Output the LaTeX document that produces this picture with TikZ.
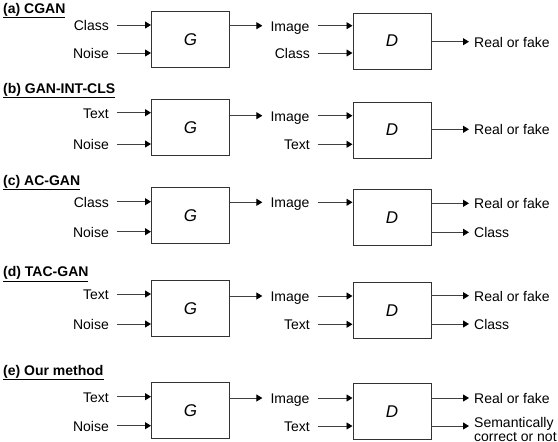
\documentclass[tikz,border=0pt]{standalone}
\usepackage{fontspec}
\setmainfont{Liberation Sans}
\usetikzlibrary{arrows.meta,positioning}
\tikzset{
  arr/.style={draw=black!75, line width=0.9pt, -{Triangle[length=6pt,width=7pt,color=black]}},
  blk/.style={draw=black!80, line width=0.9pt, anchor=north west, minimum width=78pt, minimum height=56pt, inner sep=0pt, font=\fontsize{17}{19}\selectfont\itshape},
  inl/.style={anchor=east, inner xsep=8pt, inner ysep=0pt, text height=11pt, text depth=0pt},
  outl/.style={anchor=west, inner xsep=5pt, inner ysep=0pt, text height=11pt, text depth=0pt},
  imgl/.style={inner xsep=8pt, inner ysep=0pt, text height=11pt, text depth=0pt},
  ttl/.style={anchor=base west, inner sep=0pt, font=\fontsize{14}{16}\selectfont\bfseries}
}
\begin{document}
\begin{tikzpicture}[x=1pt, y=-1pt, font=\fontsize{14}{16}\selectfont]
  \useasboundingbox (0,0) rectangle (558,442);

  % (a) CGAN
  \node[ttl] (ta) at (3,13.3) {\underline{(a) CGAN}};
  \node[blk] (Ga) at (151,11) {G};
  \node[blk] (Da) at (352.5,12.7) {D};
  \node[inl] (ca) at (117,25) {Class};
  \node[inl] (na) at (117,53) {Noise};
  \node[imgl] (ia) at (290,25.7) {Image};
  \node[inl] (ka) at (318,53) {Class};
  \node[outl] (ra) at (469,41.7) {Real or fake};
  \draw[arr] (ca) -- (ca -| Ga.west);
  \draw[arr] (na) -- (na -| Ga.west);
  \draw[arr] (Ga.east |- ia) -- (ia);
  \draw[arr] (ia) -- (ia -| Da.west);
  \draw[arr] (ka) -- (ka -| Da.west);
  \draw[arr] (Da.east |- ra) -- (ra);

  % (b) GAN-INT-CLS
  \node[ttl] (tb) at (3,93.3) {\underline{(b) GAN-INT-CLS}};
  \node[blk] (Gb) at (151,99) {G};
  \node[blk] (Db) at (352.5,101.7) {D};
  \node[inl] (cb) at (117,112.7) {Text};
  \node[inl] (nb) at (117,144) {Noise};
  \node[imgl] (ib) at (290,115.7) {Image};
  \node[inl] (kb) at (318,144.3) {Text};
  \node[outl] (rb) at (469,129.3) {Real or fake};
  \draw[arr] (cb) -- (cb -| Gb.west);
  \draw[arr] (nb) -- (nb -| Gb.west);
  \draw[arr] (Gb.east |- ib) -- (ib);
  \draw[arr] (ib) -- (ib -| Db.west);
  \draw[arr] (kb) -- (kb -| Db.west);
  \draw[arr] (Db.east |- rb) -- (rb);

  % (c) AC-GAN
  \node[ttl] (tc) at (3,185) {\underline{(c) AC-GAN}};
  \node[blk] (Gc) at (151,187) {G};
  \node[blk] (Dc) at (352.5,189) {D};
  \node[inl] (cc) at (117,201.7) {Class};
  \node[inl] (nc) at (117,231.7) {Noise};
  \node[imgl] (ic) at (290,202.3) {Image};
  \node[outl] (rc) at (469,203.3) {Real or fake};
  \node[outl] (oc) at (469,232.3) {Class};
  \draw[arr] (cc) -- (cc -| Gc.west);
  \draw[arr] (nc) -- (nc -| Gc.west);
  \draw[arr] (Gc.east |- ic) -- (ic);
  \draw[arr] (ic) -- (ic -| Dc.west);
  \draw[arr] (Dc.east |- rc) -- (rc);
  \draw[arr] (Dc.east |- oc) -- (oc);

  % (d) TAC-GAN
  \node[ttl] (td) at (3,276.7) {\underline{(d) TAC-GAN}};
  \node[blk] (Gd) at (151,280) {G};
  \node[blk] (Dd) at (352.5,282) {D};
  \node[inl] (cd) at (117,294) {Text};
  \node[inl] (nd) at (117,324) {Noise};
  \node[imgl] (id) at (290,296) {Image};
  \node[inl] (kd) at (318,324.3) {Text};
  \node[outl] (rd) at (469,295.7) {Real or fake};
  \node[outl] (od) at (469,324) {Class};
  \draw[arr] (cd) -- (cd -| Gd.west);
  \draw[arr] (nd) -- (nd -| Gd.west);
  \draw[arr] (Gd.east |- id) -- (id);
  \draw[arr] (id) -- (id -| Dd.west);
  \draw[arr] (kd) -- (kd -| Dd.west);
  \draw[arr] (Dd.east |- rd) -- (rd);
  \draw[arr] (Dd.east |- od) -- (od);

  % (e) Our method
  \node[ttl] (te) at (3,375) {\underline{(e) Our method}};
  \node[blk] (Ge) at (151,382) {G};
  \node[blk] (De) at (352.5,383) {D};
  \node[inl] (ce) at (117,396.7) {Text};
  \node[inl] (ne) at (117,425.7) {Noise};
  \node[imgl] (ie) at (290,398) {Image};
  \node[inl] (ke) at (318,426) {Text};
  \node[outl] (re) at (469,398) {Real or fake};
  \coordinate (se) at (469,426);
  \node[anchor=base west, align=left, inner xsep=5pt, inner ysep=0pt, font=\fontsize{14}{14}\selectfont] (sa) at ([yshift=-15.5pt]se) {Semantically\\correct or not};
  \draw[arr] (ce) -- (ce -| Ge.west);
  \draw[arr] (ne) -- (ne -| Ge.west);
  \draw[arr] (Ge.east |- ie) -- (ie);
  \draw[arr] (ie) -- (ie -| De.west);
  \draw[arr] (ke) -- (ke -| De.west);
  \draw[arr] (De.east |- re) -- (re);
  \draw[arr] (De.east |- se) -- (se);
\end{tikzpicture}
\end{document}
